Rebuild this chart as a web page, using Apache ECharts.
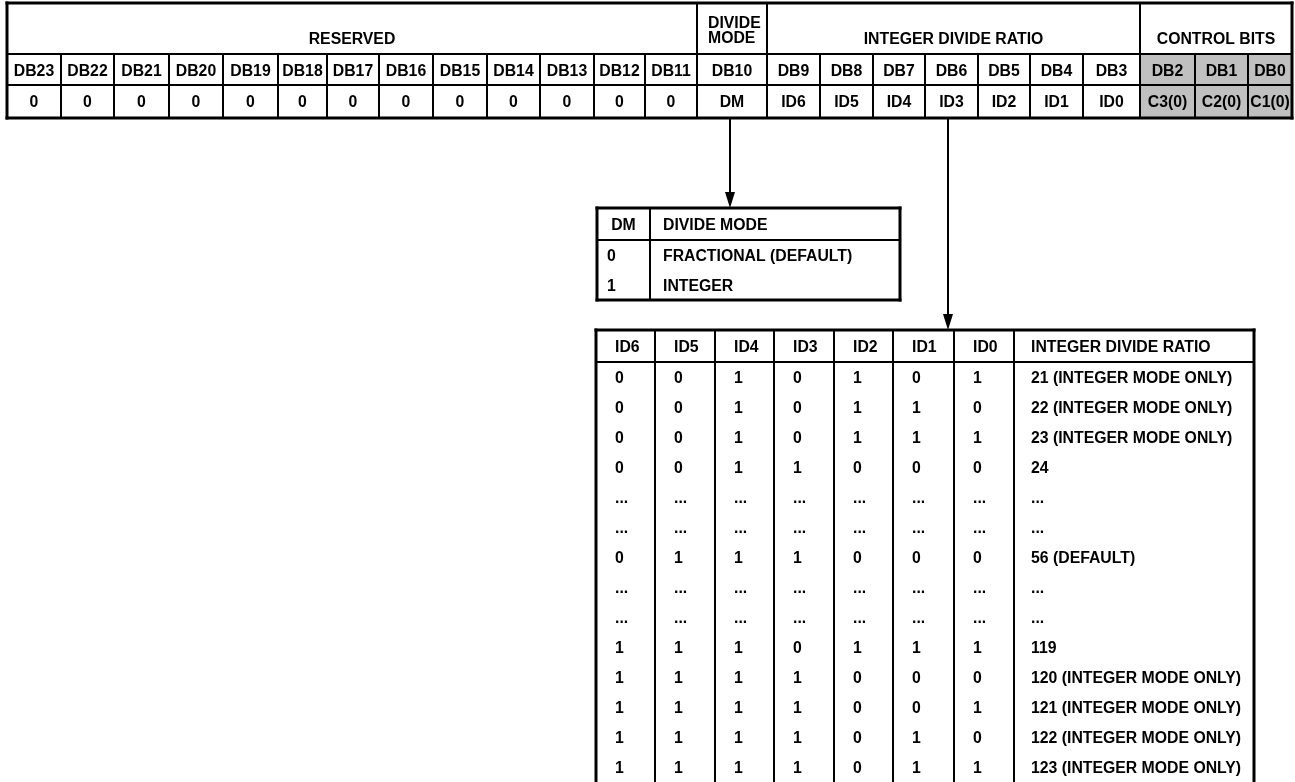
<!DOCTYPE html>
<html><head><meta charset="utf-8">
<script src="https://cdn.jsdelivr.net/npm/echarts@6/dist/echarts.min.js"></script>
<style>html,body{margin:0;padding:0;background:#fff;}#main{width:1295px;height:782px;}</style>
</head><body><div id="main"></div>
<script>
// ---------------- data ----------------
const fieldNames = ['RESERVED', 'DIVIDE\nMODE', 'INTEGER DIVIDE RATIO', 'CONTROL BITS'];
const fieldSpans = [13, 1, 7, 3];
const bitNames = ['DB23','DB22','DB21','DB20','DB19','DB18','DB17','DB16','DB15','DB14','DB13','DB12','DB11','DB10','DB9','DB8','DB7','DB6','DB5','DB4','DB3','DB2','DB1','DB0'];
const bitValues = ['0','0','0','0','0','0','0','0','0','0','0','0','0','DM','ID6','ID5','ID4','ID3','ID2','ID1','ID0','C3(0)','C2(0)','C1(0)'];
const shadedBits = ['DB2','DB1','DB0'];
const dmHeader = ['DM', 'DIVIDE MODE'];
const dmRows = [['0', 'FRACTIONAL (DEFAULT)'], ['1', 'INTEGER']];
const idHeader = ['ID6','ID5','ID4','ID3','ID2','ID1','ID0','INTEGER DIVIDE RATIO'];
const idRows = [
  ['0','0','1','0','1','0','1','21 (INTEGER MODE ONLY)'],
  ['0','0','1','0','1','1','0','22 (INTEGER MODE ONLY)'],
  ['0','0','1','0','1','1','1','23 (INTEGER MODE ONLY)'],
  ['0','0','1','1','0','0','0','24'],
  ['...','...','...','...','...','...','...','...'],
  ['...','...','...','...','...','...','...','...'],
  ['0','1','1','1','0','0','0','56 (DEFAULT)'],
  ['...','...','...','...','...','...','...','...'],
  ['...','...','...','...','...','...','...','...'],
  ['1','1','1','0','1','1','1','119'],
  ['1','1','1','1','0','0','0','120 (INTEGER MODE ONLY)'],
  ['1','1','1','1','0','0','1','121 (INTEGER MODE ONLY)'],
  ['1','1','1','1','0','1','0','122 (INTEGER MODE ONLY)'],
  ['1','1','1','1','0','1','1','123 (INTEGER MODE ONLY)']
];

// ---------------- layout ----------------
const W = 1295, H = 782;
const regX = [7,61,114,169,223,278,327,379,433,487,540,594,645,697,767,820,873,925,978,1030,1083,1140,1195,1248,1292];
const regY = [3, 54, 85, 118];
const dmX = [597, 650, 900], dmY0 = 208;
const idX = [596, 655, 715, 774, 834, 893, 954, 1014, 1254], idY0 = 330;
const headH = 32, rowH = 30;
const FONT = 'bold 15.8px "Liberation Sans", Arial, Helvetica, sans-serif';
const INNER = 2, OUTER = 3;
const SHADE = '#c0c0c0';

const cells = [], segs = [], arrows = [];
function cell(x0, y0, x1, y1, text, opt) {
  cells.push(Object.assign({x0, y0, x1, y1, text, align: 'center', pad: 0, dy: 0, fill: null}, opt || {}));
}
function seg(x0, y0, x1, y1, w) { segs.push([x0, y0, x1, y1, w]); }
function box(x0, y0, x1, y1) {
  seg(x0, y0, x1, y0, OUTER); seg(x0, y1, x1, y1, OUTER);
  seg(x0, y0, x0, y1, OUTER); seg(x1, y0, x1, y1, OUTER);
}

// register map
let ci = 0;
fieldNames.forEach((name, k) => {
  const a = regX[ci], b = regX[ci + fieldSpans[k]];
  const multi = name.indexOf('\n') >= 0;
  cell(a, regY[0], b, regY[1], name, multi ? {align: 'left', pad: 11, dy: 3} : {dy: 11});
  if (k > 0) seg(a, regY[0], a, regY[1], INNER);
  ci += fieldSpans[k];
});
bitNames.forEach((n, i) => {
  const fill = shadedBits.indexOf(n) >= 0 ? SHADE : null;
  cell(regX[i], regY[1], regX[i + 1], regY[2], n, {fill, dy: 2});
  cell(regX[i], regY[2], regX[i + 1], regY[3], bitValues[i], {fill, dy: 1});
  if (i > 0) seg(regX[i], regY[1], regX[i], regY[3], INNER);
});
seg(regX[0], regY[1], regX[regX.length - 1], regY[1], INNER);
seg(regX[0], regY[2], regX[regX.length - 1], regY[2], INNER);
box(regX[0], regY[0], regX[regX.length - 1], regY[3]);

// divide mode table
const dmY1 = dmY0 + headH, dmBottom = dmY1 + rowH * dmRows.length;
cell(dmX[0], dmY0, dmX[1], dmY1, dmHeader[0], {dy: 2});
cell(dmX[1], dmY0, dmX[2], dmY1, dmHeader[1], {align: 'left', pad: 13, dy: 2});
dmRows.forEach((r, j) => {
  const y0 = dmY1 + rowH * j;
  cell(dmX[0], y0, dmX[1], y0 + rowH, r[0], {align: 'left', pad: 10, dy: 2});
  cell(dmX[1], y0, dmX[2], y0 + rowH, r[1], {align: 'left', pad: 13, dy: 2});
});
seg(dmX[0], dmY1, dmX[2], dmY1, INNER);
seg(dmX[1], dmY0, dmX[1], dmBottom, INNER);
box(dmX[0], dmY0, dmX[2], dmBottom);

// integer divide ratio table
const idY1 = idY0 + headH, idBottom = idY1 + rowH * idRows.length;
idHeader.forEach((h, k) => {
  const pad = k === idHeader.length - 1 ? 17 : 19;
  cell(idX[k], idY0, idX[k + 1], idY1, h, {align: 'left', pad, dy: 2});
  idRows.forEach((r, j) => {
    const y0 = idY1 + rowH * j;
    cell(idX[k], y0, idX[k + 1], y0 + rowH, r[k], {align: 'left', pad, dy: 2});
  });
  if (k > 0) seg(idX[k], idY0, idX[k], idBottom + 4, INNER);
});
seg(idX[0], idY1, idX[idX.length - 1], idY1, INNER);
box(idX[0], idY0, idX[idX.length - 1], idBottom + 4);

// arrows (field -> decode table)
arrows.push([730, regY[3], dmY0]);
arrows.push([948, regY[3], idY0]);

// ---------------- chart ----------------
const chart = echarts.init(document.getElementById('main'), null, {renderer: 'canvas'});
chart.setOption({
  animation: false,
  backgroundColor: '#fff',
  grid: {left: 0, right: 0, top: 0, bottom: 0},
  xAxis: {type: 'value', min: 0, max: W, show: false},
  yAxis: {type: 'value', min: 0, max: H, inverse: true, show: false},
  series: [
    {
      type: 'custom', clip: false, z: 1,
      data: cells.map(c => [c.x0, c.y0, c.x1, c.y1]),
      renderItem(params, api) {
        const c = cells[params.dataIndex];
        const p0 = api.coord([api.value(0), api.value(1)]);
        const p1 = api.coord([api.value(2), api.value(3)]);
        const children = [];
        if (c.fill) children.push({type: 'rect', shape: {x: p0[0], y: p0[1], width: p1[0] - p0[0], height: p1[1] - p0[1]}, style: {fill: c.fill}});
        const tx = c.align === 'center' ? (p0[0] + p1[0]) / 2 : p0[0] + c.pad;
        const ty = (p0[1] + p1[1]) / 2 + c.dy;
        children.push({type: 'text', style: {text: c.text, x: tx, y: ty, align: c.align, verticalAlign: 'middle', font: FONT, fill: '#000', lineHeight: 15}});
        return {type: 'group', children};
      }
    },
    {
      type: 'custom', clip: false, z: 2,
      data: segs.map(s => [s[0], s[1], s[2], s[3], s[4]]),
      renderItem(params, api) {
        const a = api.coord([api.value(0), api.value(1)]);
        const b = api.coord([api.value(2), api.value(3)]);
        return {type: 'line', shape: {x1: a[0], y1: a[1], x2: b[0], y2: b[1]}, style: {stroke: '#000', lineWidth: api.value(4), lineCap: 'square'}};
      }
    },
    {
      type: 'custom', clip: false, z: 3,
      data: arrows,
      renderItem(params, api) {
        const a = api.coord([api.value(0), api.value(1)]);
        const b = api.coord([api.value(0), api.value(2)]);
        const hl = 16, hw = 5;
        return {type: 'group', children: [
          {type: 'line', shape: {x1: a[0], y1: a[1], x2: b[0], y2: b[1] - hl + 2}, style: {stroke: '#000', lineWidth: 2}},
          {type: 'polygon', shape: {points: [[b[0] - hw, b[1] - hl], [b[0] + hw, b[1] - hl], [b[0], b[1]]]}, style: {fill: '#000'}}
        ]};
      }
    }
  ]
});
</script>
</body></html>
